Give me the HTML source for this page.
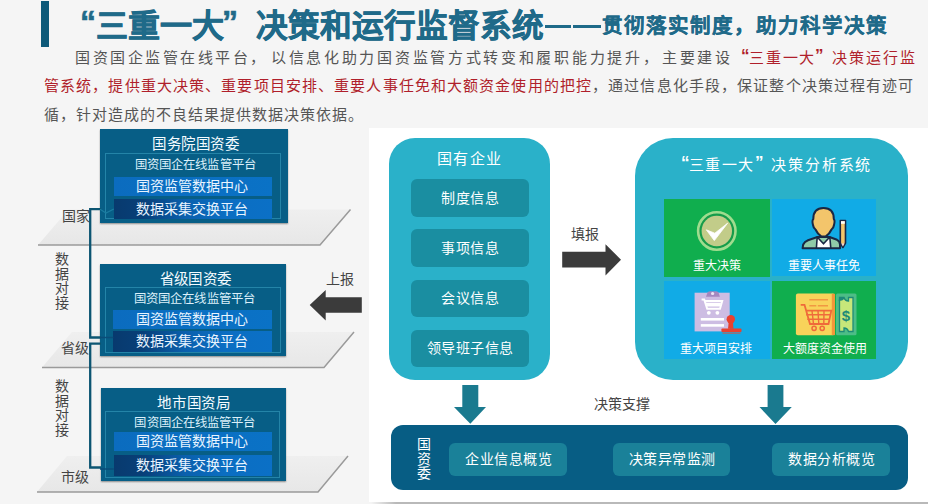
<!DOCTYPE html>
<html lang="zh-CN"><head><meta charset="utf-8">
<style>
*{margin:0;padding:0;box-sizing:border-box}
html,body{width:928px;height:504px;overflow:hidden;background:#f5f5f5;font-family:"Liberation Sans",sans-serif}
.a{position:absolute;white-space:nowrap}
.t{color:#1f6a89;font-weight:bold;line-height:1;-webkit-text-stroke:0.6px #1f6a89}
.p{font-size:15px;line-height:16px;color:#555}
.ql,.qr{display:inline-block;width:15px}.ql{text-align:right}.qr{text-align:left}
.r{color:#b01f2b;font-weight:500}
.box{position:absolute;background:#075e86;box-shadow:0 1px 1.5px rgba(0,0,0,.4)}
.box .h{position:absolute;left:0;right:0;text-align:center;color:#f4fbff;font-size:14.5px;line-height:14.5px;font-weight:500;letter-spacing:0.6px;padding-left:4px}
.box .fr{position:absolute;border:1px solid #2484a8}
.box .s{position:absolute;left:0;right:0;text-align:center;color:#dcf0fa;font-size:12.4px;line-height:12.4px;letter-spacing:0.1px;padding-left:3px}
.box .b1{position:absolute;background:linear-gradient(90deg,#0b6cbf,#0a72c6);color:#e8f4ff;font-size:14px;line-height:19px;text-align:center;padding-right:2px}
.box .b2{position:absolute;padding-right:2px;background:linear-gradient(90deg,#083a6e 0%,#083f78 18%,#0a60ad 45%,#0b6ec2 70%,#0b70c6 100%);color:#e8f4ff;font-size:14px;line-height:20px;text-align:center}
.lab{position:absolute;color:#444;font-size:14px;line-height:14px}
.vt{position:absolute;color:#444;font-size:14px;line-height:14.5px;width:14px;white-space:normal}
.cy{position:absolute;background:#2ab1c9;border-radius:20px}
.ib{position:absolute;background:#1a8ea1;border-radius:6px;color:#fff;font-size:14px;text-align:center;letter-spacing:0.5px;font-weight:500}
.tile{position:absolute;color:#fff;font-size:12px;line-height:12px;text-align:center}
.g{background:#10ae4e}
.bl{background:#11abe6}
.bb{position:absolute;background:#1a8199;border-radius:6px;color:#fff;font-size:14px;text-align:center;font-weight:500;letter-spacing:0.5px;padding-left:1.5px}
</style></head><body>

<!-- title -->
<div class="a" style="left:41px;top:1px;width:8px;height:46px;background:#0e5a79"></div>
<div class="a t" style="left:80px;top:6px;font-size:32px">“</div>
<div class="a t" style="left:96px;top:10px;font-size:32px">三重一大</div>
<div class="a t" style="left:222px;top:6px;font-size:32px">”</div>
<div class="a t" style="left:256px;top:10.5px;font-size:31.6px">决策和运行监督系统</div>
<div class="a" style="left:545px;top:25px;width:26px;height:3px;background:#1f6a89"></div>
<div class="a" style="left:573px;top:25px;width:28px;height:3px;background:#1f6a89"></div>
<div class="a t" style="left:602px;top:15.5px;font-size:20.5px;letter-spacing:2.02px;-webkit-text-stroke:0.2px #1f6a89">贯彻落实制度，助力科学决策</div>

<!-- paragraph -->
<div class="a p" style="left:75px;top:50px;letter-spacing:2.52px">国资国企监管在线平台，</div>
<div class="a p" style="left:271px;top:50px;letter-spacing:2.7px">以信息化助力国资监管方式转变和履职能力提升，</div>
<div class="a p" style="left:662px;top:50px;letter-spacing:2.67px">主要建设</div>
<div class="a p r" style="left:741px;top:47px;font-size:17px;line-height:17px;font-weight:bold;font-family:'Liberation Sans',sans-serif">“</div>
<div class="a p r" style="left:749px;top:50px;letter-spacing:1.8px">三重一大</div>
<div class="a p r" style="left:815px;top:47px;font-size:17px;line-height:17px;font-weight:bold">”</div>
<div class="a p r" style="left:832px;top:50px;letter-spacing:2px">决策运行监</div>
<div class="a p" style="left:44px;top:78px;letter-spacing:1.12px"><span class="r">管系统，提供重大决策、重要项目安排、重要人事任免和大额资金使用的把控</span>，通过信息化手段，保证整个决策过程有迹可</div>
<div class="a p" style="left:44px;top:107px;letter-spacing:1.0px">循，针对造成的不良结果提供数据决策依据。</div>

<!-- left diagram -->
<svg class="a" style="left:0;top:0" width="370" height="504">
  <defs><linearGradient id="pg" x1="0" y1="0" x2="0" y2="1"><stop offset="0" stop-color="#efefef"/><stop offset="1" stop-color="#e7e7e7"/></linearGradient></defs>
  <polygon points="68.5,209.5 350.5,209.5 320,245 38,245" fill="url(#pg)"/>
  <polyline points="38,245 320,245 350.5,209.5" fill="none" stroke="#9a9a9a" stroke-width="1.5"/>
  <polygon points="72,332 354,332 324,367.5 42,367.5" fill="url(#pg)"/>
  <polyline points="42,367.5 324,367.5 354,332" fill="none" stroke="#9a9a9a" stroke-width="1.5"/>
  <polygon points="67,456 348,456 318,492 37,492" fill="url(#pg)"/>
  <polyline points="37,492 318,492 348,456" fill="none" stroke="#9a9a9a" stroke-width="1.5"/>
</svg>

<div class="lab" style="left:62px;top:209px">国家</div>
<div class="lab" style="left:61px;top:341px">省级</div>
<div class="lab" style="left:61px;top:470px">市级</div>
<div class="vt" style="left:55px;top:252px">数据对接</div>
<div class="vt" style="left:55px;top:379px">数据对接</div>

<div class="box" style="left:99.8px;top:129.4px;width:188.2px;height:93.2px">
  <div class="h" style="top:7.8px">国务院国资委</div>
  <div class="fr" style="left:4.8px;top:23.6px;width:176.9px;height:66.3px"></div>
  <div class="s" style="top:29.3px">国资国企在线监管平台</div>
  <div class="b1" style="left:14.0px;top:47.6px;width:158.5px;height:19.0px;line-height:19.0px">国资监管数据中心</div>
  <div class="b2" style="left:14.0px;top:69.4px;width:158.5px;height:20.1px;line-height:20.1px">数据采集交换平台</div>
</div>
<div class="box" style="left:100.2px;top:264.2px;width:185.6px;height:92.0px">
  <div class="h" style="top:7.8px;padding-left:5px;letter-spacing:0.2px">省级国资委</div>
  <div class="fr" style="left:4.8px;top:23.1px;width:176.0px;height:65.7px"></div>
  <div class="s" style="top:28.8px">国资国企在线监管平台</div>
  <div class="b1" style="left:13.1px;top:45.4px;width:159.0px;height:19.2px;line-height:19.2px">国资监管数据中心</div>
  <div class="b2" style="left:13.1px;top:67.2px;width:159.0px;height:20.6px;line-height:20.6px">数据采集交换平台</div>
</div>
<div class="box" style="left:101px;top:388.3px;width:184.9px;height:92.7px">
  <div class="h" style="top:7.8px;padding-left:1px">地市国资局</div>
  <div class="fr" style="left:3.6px;top:22.7px;width:175.8px;height:67.0px"></div>
  <div class="s" style="top:28.4px">国资国企在线监管平台</div>
  <div class="b1" style="left:12.8px;top:44.0px;width:158.2px;height:19.2px;line-height:19.2px">国资监管数据中心</div>
  <div class="b2" style="left:12.8px;top:67.2px;width:158.2px;height:20.8px;line-height:20.8px">数据采集交换平台</div>
</div>

<svg class="a" style="left:0;top:0" width="370" height="504">
  <polyline points="101,209.2 90.2,209.2 90.2,337.5 101,337.5" fill="none" stroke="#0c5572" stroke-width="2.3"/>
  <polyline points="101,343.6 90.2,343.6 90.2,467.5 101,467.5" fill="none" stroke="#0c5572" stroke-width="2.3"/>
  <polyline points="100,209.2 106,213 113.8,209" fill="none" stroke="#1b7ca0" stroke-width="1.2"/>
  <polyline points="100,337.5 113.3,337.5 M100,343.6 113.3,343.6" fill="none" stroke="#0a4d78" stroke-width="1.5"/>
  <line x1="100" y1="469" x2="113.8" y2="469" stroke="#0a4d78" stroke-width="1.5"/>
  <polygon points="309.7,305 325.7,290 325.7,297.2 361.8,297.2 361.8,312.8 325.7,312.8 325.7,320.4" fill="#3b3b3b"/>
</svg>
<div class="lab" style="left:326px;top:272px">上报</div>

<!-- white panel -->
<div class="a" style="left:369px;top:128px;width:560px;height:374px;background:#fff"></div>
<div class="a" style="left:371px;top:502px;width:560px;height:2px;background:linear-gradient(90deg,rgba(180,180,180,0),#b9b9b9 25px)"></div>

<div class="cy" style="left:389px;top:138px;width:161px;height:242px;border-radius:26px"></div>
<div class="a" style="left:437px;top:150.5px;color:#fff;font-size:15px;line-height:15px;letter-spacing:1.3px">国有企业</div>
<div class="ib" style="left:411px;top:179px;width:118px;height:38px;line-height:38px">制度信息</div>
<div class="ib" style="left:411px;top:229px;width:118px;height:38px;line-height:38px">事项信息</div>
<div class="ib" style="left:411px;top:280px;width:118px;height:37px;line-height:37px">会议信息</div>
<div class="ib" style="left:411px;top:330px;width:118px;height:37px;line-height:37px">领导班子信息</div>

<div class="lab" style="left:571px;top:227px">填报</div>
<svg class="a" style="left:550px;top:230px" width="80" height="60">
  <polygon points="12.2,21.8 55.5,21.8 55.5,14.2 71,29.7 55.5,45.4 55.5,37.5 12.2,37.5" fill="#3b3b3b"/>
</svg>

<div class="cy" style="left:634.5px;top:138px;width:273.5px;height:242px;border-radius:38px"></div>
<div class="a" style="left:681px;top:154px;color:#fff;font-size:17px;line-height:17px;font-weight:bold">“</div>
<div class="a" style="left:689px;top:157px;color:#fff;font-size:15px;line-height:15px;letter-spacing:1.3px">三重一大</div>
<div class="a" style="left:755px;top:154px;color:#fff;font-size:17px;line-height:17px;font-weight:bold">”</div>
<div class="a" style="left:771px;top:157px;color:#fff;font-size:15px;line-height:15px;letter-spacing:1.9px">决策分析系统</div>
<div class="tile g" style="left:664px;top:199px;width:106px;height:78px"><div style="position:absolute;left:0;right:0;top:61px">重大决策</div></div>
<div class="tile bl" style="left:772px;top:199px;width:104px;height:77px"><div style="position:absolute;left:0;right:0;top:61px">重要人事任免</div></div>
<div class="tile bl" style="left:664px;top:281px;width:106px;height:78px"><div style="position:absolute;left:0;right:3px;top:62px">重大项目安排</div></div>
<div class="tile g" style="left:772px;top:281px;width:104px;height:78px"><div style="position:absolute;left:2px;right:0;top:62px">大额度资金使用</div></div>


<!-- icon 1: check -->
<svg class="a" style="left:692px;top:207px" width="50" height="50" viewBox="0 0 50 50">
  <circle cx="24.8" cy="24" r="18.7" fill="#169c4a" stroke="#9fdc8e" stroke-width="2.6"/>
  <circle cx="24.8" cy="24" r="15.2" fill="#c2cc89"/>
  <path d="M14.3,22.8 L22.3,33.6 L35.6,16.2 L22.8,26.2 Z" fill="#fff" stroke="#fff" stroke-width="0.8" stroke-linejoin="round"/>
</svg>
<!-- icon 2: person -->
<svg class="a" style="left:798px;top:204px" width="54" height="48" viewBox="0 0 54 48">
  <path d="M4.6,44.2 L5.2,40.5 Q6.5,37.5 10,36.2 L19.5,33 L31.5,33 L39,35.8 Q41.8,37.2 42,40.5 L42,44.2 Z" fill="#8fcaa8" stroke="#1a2744" stroke-width="2" stroke-linejoin="round"/>
  <path d="M19.2,33 L25.5,39.8 L31.8,33 L32.8,44 L18.4,44 Z" fill="#fff" stroke="#1a2744" stroke-width="1.6" stroke-linejoin="round"/>
  <path d="M15.3,15 Q15.3,4 25.5,4 Q35.8,4 35.8,15 Q37.2,16.5 36,21 Q35.6,24 33.5,25.5 Q31.5,30 27.5,32.6 L23.5,32.6 Q19.5,30 17.5,25.5 Q15.4,24 15,21 Q13.8,16.5 15.3,15 Z" fill="#f3c56b" stroke="#1a2744" stroke-width="2" stroke-linejoin="round"/>
  <path d="M42.3,16.5 L47.5,16.5 L47.5,39 L44.9,43.5 L42.3,39 Z" fill="#f3c56b" stroke="#1a2744" stroke-width="1.6" stroke-linejoin="round"/>
  <rect x="43" y="17.2" width="3.8" height="2.6" fill="#fff"/>
  <path d="M43.2,39.5 L46.6,39.5 L44.9,42.5 Z" fill="#f4d3d3"/>
</svg>
<!-- icon 3: clipboard + stamp -->
<svg class="a" style="left:690px;top:286px" width="56" height="52" viewBox="0 0 56 52">
  <rect x="4.6" y="6.7" width="35.1" height="38.7" fill="#cdbde3"/>
  <path d="M16,10.8 L17.5,6.5 Q18.5,5.2 20.5,5.2 L25.5,5.2 Q27.6,5.2 28.5,6.5 L29.9,10.8 Z" fill="#a487bf"/>
  <circle cx="22.6" cy="7.5" r="1.6" fill="#ece4f4"/>
  <path d="M11.6,13.4 L14.2,13.4 L17.2,22.8 L30,22.8 L32.2,15 L15,15" fill="none" stroke="#fff" stroke-width="2"/>
  <path d="M15.5,16.8 L31,16.8 L30.2,20.5 L16.5,20.5 Z" fill="#fff"/>
  <circle cx="18.8" cy="26.8" r="1.9" fill="#fff"/>
  <circle cx="27.4" cy="26.8" r="1.9" fill="#fff"/>
  <rect x="10.8" y="32" width="23.2" height="2.6" fill="#fff"/>
  <rect x="10.8" y="38.1" width="23.2" height="2.6" fill="#fff"/>
  <circle cx="40.8" cy="33.2" r="4.2" fill="#e8412f"/>
  <path d="M38.8,35 L42.8,35 L43.5,42.8 L38,42.8 Z" fill="#e8412f"/>
  <rect x="31.4" y="42.6" width="20.1" height="3.4" rx="0.8" fill="#e8412f"/>
  <rect x="32.5" y="46.6" width="18" height="1" fill="#d9543f"/>
</svg>
<!-- icon 4: receipt + money -->
<svg class="a" style="left:790px;top:286px" width="72" height="54" viewBox="0 0 72 54">
  <rect x="5.9" y="7.5" width="39.1" height="41.8" rx="2" fill="#f8d35a"/>
  <rect x="41.8" y="7.8" width="3.2" height="41.3" fill="#f2973a"/>
  <rect x="19.3" y="13.2" width="18.7" height="1.2" fill="#ef8a3e"/>
  <rect x="19.3" y="19.2" width="7" height="1.2" fill="#ef8a3e"/>
  <rect x="27.8" y="19.2" width="10.2" height="1.2" fill="#ef8a3e"/>
  <path d="M10.7,18.8 L14.5,18.8 L20,38 L38.5,38 L41.3,24.7 L15.5,24.7" fill="none" stroke="#ef6a3a" stroke-width="1.8"/>
  <path d="M16.2,28.8 L40.4,28.8 M17.3,33.2 L39.5,33.2 M22,24.7 L23.5,38 M28,24.7 L28.8,38 M34,24.7 L33.8,38" stroke="#ef6a3a" stroke-width="1.4"/>
  <circle cx="24.1" cy="42.3" r="2.1" fill="none" stroke="#ef6a3a" stroke-width="1.5"/>
  <circle cx="32.2" cy="42.3" r="2.1" fill="none" stroke="#ef6a3a" stroke-width="1.5"/>
  <rect x="46" y="7.5" width="20.5" height="41.8" rx="1.5" fill="#4dbd86"/>
  <path d="M49.5,11.5 L54,11.5 Q55,15 58.5,15 L58.5,11.5 L63,11.5 L63,45.5 L58.5,45.5 Q57.5,42 54,42 L54,45.5 L49.5,45.5 Z" fill="#c7e77a" stroke="#1e8a78" stroke-width="1.3"/>
  <path d="M48.5,14.5 Q50,10.5 54.5,11.5 Q53.5,15.5 48.5,14.5 Z" fill="#1e8a78"/>
  <text x="55.8" y="34.8" font-family="Liberation Sans" font-weight="bold" font-size="15" fill="#1e8a78" text-anchor="middle">$</text>
</svg>
<svg class="a" style="left:440px;top:380px" width="360" height="50">
  <polygon points="22.3,5 38.3,5 38.3,27 46,27 30.3,43.8 14,27 22.3,27" fill="#1a7a8f"/>
  <polygon points="327.6,5 343.4,5 343.4,27 351.8,27 335.5,44 319.5,27 327.6,27" fill="#1a7a8f"/>
</svg>
<div class="lab" style="left:594px;top:397px">决策支撑</div>

<div class="a" style="left:391px;top:425px;width:517px;height:65px;background:#075d84;border-radius:12px"></div>
<div class="vt" style="left:417px;top:437px;color:#fff">国资委</div>
<div class="bb" style="left:449px;top:443px;width:118px;height:33px;line-height:33px">企业信息概览</div>
<div class="bb" style="left:613px;top:443px;width:117px;height:33px;line-height:33px">决策异常监测</div>
<div class="bb" style="left:772px;top:443px;width:118px;height:33px;line-height:33px">数据分析概览</div>

</body></html>
